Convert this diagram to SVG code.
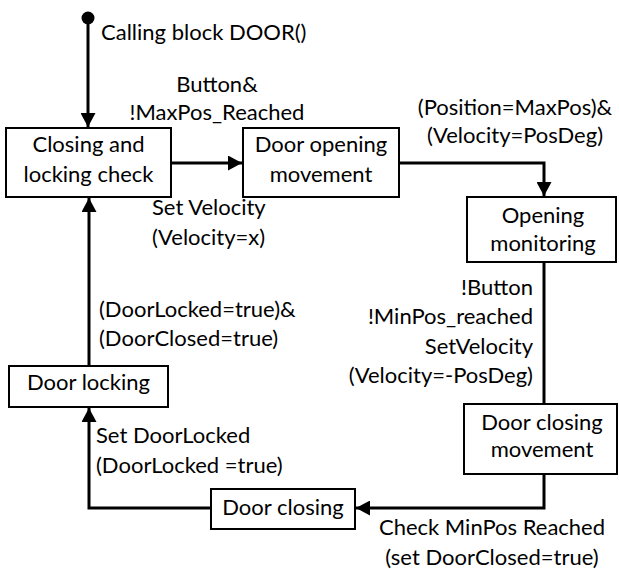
<svg xmlns="http://www.w3.org/2000/svg" width="619" height="569" viewBox="0 0 619 569">
<defs>
<marker id="arr" viewBox="0 0 14 15" refX="14" refY="7.5" markerWidth="14" markerHeight="15" markerUnits="userSpaceOnUse" orient="auto">
<path d="M0,0 L14,7.5 L0,15 Z" fill="#000"/>
</marker>
<style>
text{font-family:Lato,"Open Sans","Liberation Sans",sans-serif;font-size:22px;fill:#000}
.box{fill:#fff;stroke:#000;stroke-width:2}
.c{text-anchor:middle}
.r{text-anchor:end}
.edge{fill:none;stroke:#000;stroke-width:3}
</style>
</defs>
<rect width="619" height="569" fill="#fff"/>
<g id="connectors">
<circle cx="88" cy="18" r="6.5" fill="#000"/>
<path class="edge" d="M88,18 V127" marker-end="url(#arr)"/>
<path class="edge" d="M171,163 H242" marker-end="url(#arr)"/>
<path class="edge" d="M399,163 H544 V196" marker-end="url(#arr)"/>
<path class="edge" d="M544,262 V404"/>
<path class="edge" d="M544,474 V508 H356" marker-end="url(#arr)"/>
<path class="edge" d="M211,508 H89 V408" marker-end="url(#arr)"/>
<path class="edge" d="M89,366 V198" marker-end="url(#arr)"/>
<text x="101" y="40">Calling block DOOR()</text>
<text x="217" y="92" class="c">Button&amp;</text>
<text x="217" y="120" class="c">!MaxPos_Reached</text>
<text x="152" y="215">Set Velocity</text>
<text x="152" y="245">(Velocity=x)</text>
<text x="515" y="115" class="c">(Position=MaxPos)&amp;</text>
<text x="515" y="143" class="c">(Velocity=PosDeg)</text>
<text x="533" y="295" class="r">!Button</text>
<text x="533" y="324" class="r">!MinPos_reached</text>
<text x="533" y="354" class="r">SetVelocity</text>
<text x="533" y="383" class="r">(Velocity=-PosDeg)</text>
<text x="492" y="535" class="c">Check MinPos Reached</text>
<text x="492" y="565" class="c">(set DoorClosed=true)</text>
<text x="96" y="443">Set DoorLocked</text>
<text x="96" y="473">(DoorLocked =true)</text>
<text x="99" y="317">(DoorLocked=true)&amp;</text>
<text x="99" y="346">(DoorClosed=true)</text>
</g>
<g id="closing-locking-check">
<rect class="box" x="6" y="128" width="165" height="69"/>
<text x="88.5" y="152" class="c">Closing and</text>
<text x="88.5" y="182" class="c">locking check</text>
</g>
<g id="door-opening-movement">
<rect class="box" x="243" y="128" width="156" height="69"/>
<text x="321" y="152" class="c">Door opening</text>
<text x="321" y="182" class="c">movement</text>
</g>
<g id="opening-monitoring">
<rect class="box" x="467" y="197" width="149" height="65"/>
<text x="543" y="223" class="c">Opening</text>
<text x="543" y="251" class="c">monitoring</text>
</g>
<g id="door-closing-movement">
<rect class="box" x="464" y="404" width="153" height="70"/>
<text x="542" y="430" class="c">Door closing</text>
<text x="542" y="457" class="c">movement</text>
</g>
<g id="door-closing">
<rect class="box" x="211" y="489" width="144" height="40"/>
<text x="283" y="515" class="c">Door closing</text>
</g>
<g id="door-locking">
<rect class="box" x="9" y="366" width="159" height="41"/>
<text x="88.5" y="390" class="c">Door locking</text>
</g>
</svg>
